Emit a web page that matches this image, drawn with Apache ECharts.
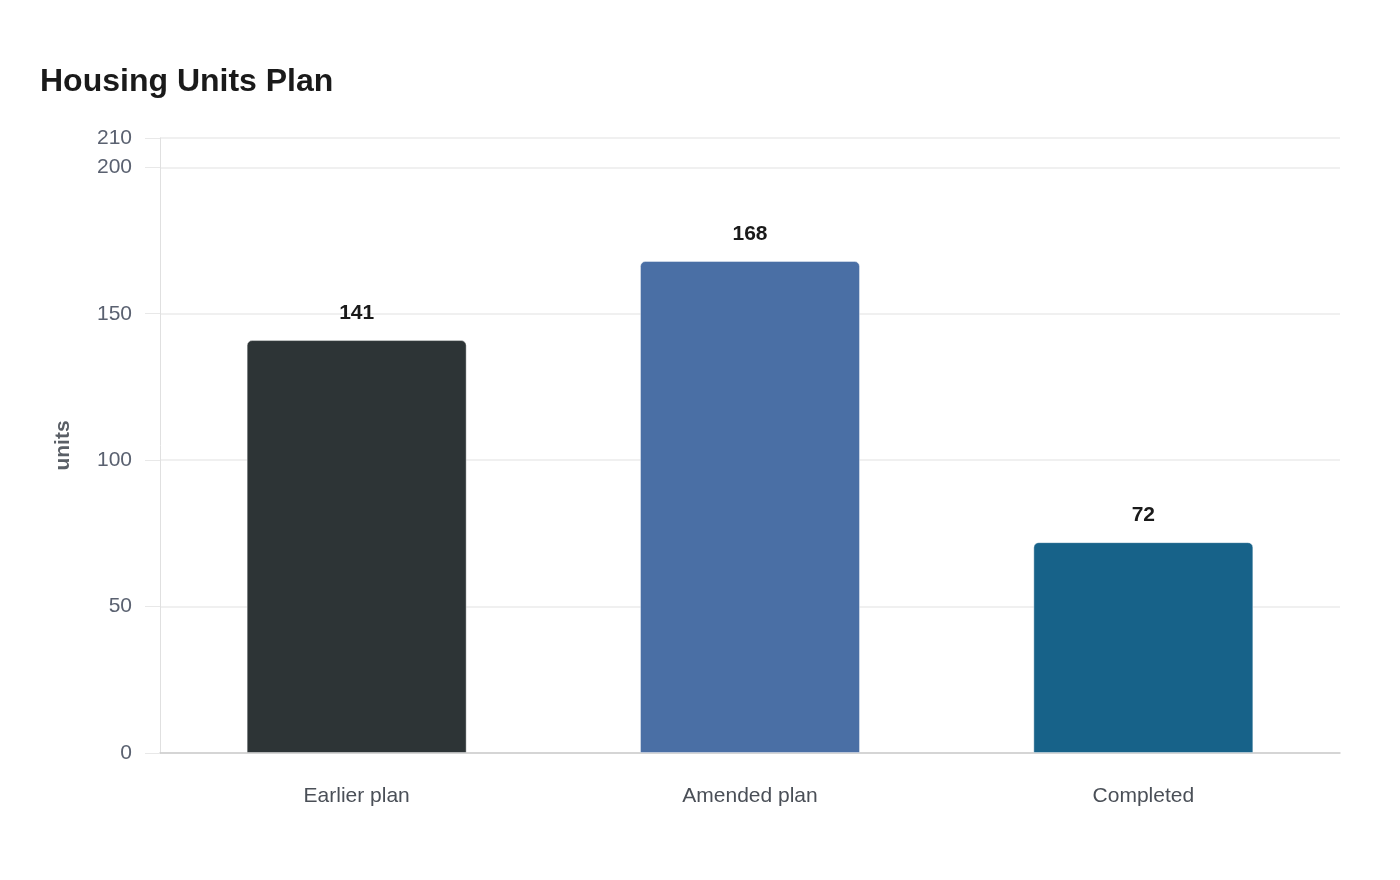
<!DOCTYPE html>
<html>
<head>
<meta charset="utf-8">
<script src="https://cdn.jsdelivr.net/npm/echarts@6/dist/echarts.min.js"></script>
<style>
  html, body { margin: 0; padding: 0; background: #fff; }
  #chart { width: 1400px; height: 880px; }
</style>
</head>
<body>
<div id="chart"></div>
<script>
// data
const categories = ["Earlier plan", "Amended plan", "Completed"];
const units = [141, 168, 72];
const barColors = ["#2d3436", "#4a6fa5", "#176289"];

const chart = echarts.init(document.getElementById("chart"));

const option = {
    backgroundColor: "#ffffff",
    textStyle: { fontFamily: "Liberation Sans, Arial, sans-serif" },
    title: {
        text: "Housing Units Plan",
        left: 35,
        top: 61,
        textStyle: { fontSize: 32, fontWeight: "bold", color: "#1a1a1a" },
    },
    grid: { left: 160, right: 60, top: 138, bottom: 127 },
    xAxis: {
        type: "category",
        data: categories,
        axisLine: { show: true, lineStyle: { color: "#cccccc", width: 1.5 } },
        axisTick: { show: false },
        axisLabel: { color: "#4a4f57", fontSize: 21, margin: 33 },
    },
    yAxis: {
        type: "value",
        min: 0,
        max: 210,
        interval: 50,
        name: "units",
        nameLocation: "middle",
        nameGap: 86,
        nameTextStyle: { fontSize: 21, fontWeight: "bold", color: "#5a5f66" },
        axisLine: { show: true, lineStyle: { color: "#e0e0e0" } },
        axisTick: { show: true, length: 15, lineStyle: { color: "#e8e8e8" } },
        axisLabel: { color: "#5a6170", fontSize: 21, margin: 28 },
        splitLine: { lineStyle: { color: "#ebebeb", width: 1.5 } },
    },
    series: [
        {
            type: "bar",
            barWidth: 220,
            data: units.map((v, i) => ({
                value: v,
                itemStyle: { color: barColors[i] },
            })),
            itemStyle: {
                borderRadius: [5, 5, 0, 0],
                borderColor: "rgba(255,255,255,0.4)",
                borderWidth: 1,
            },
            label: {
                show: true,
                position: "top",
                distance: 16,
                fontSize: 21,
                fontWeight: "bold",
                color: "#1a1a1a",
            },
        },
    ],
};

chart.setOption(option);
</script>
</body>
</html>
